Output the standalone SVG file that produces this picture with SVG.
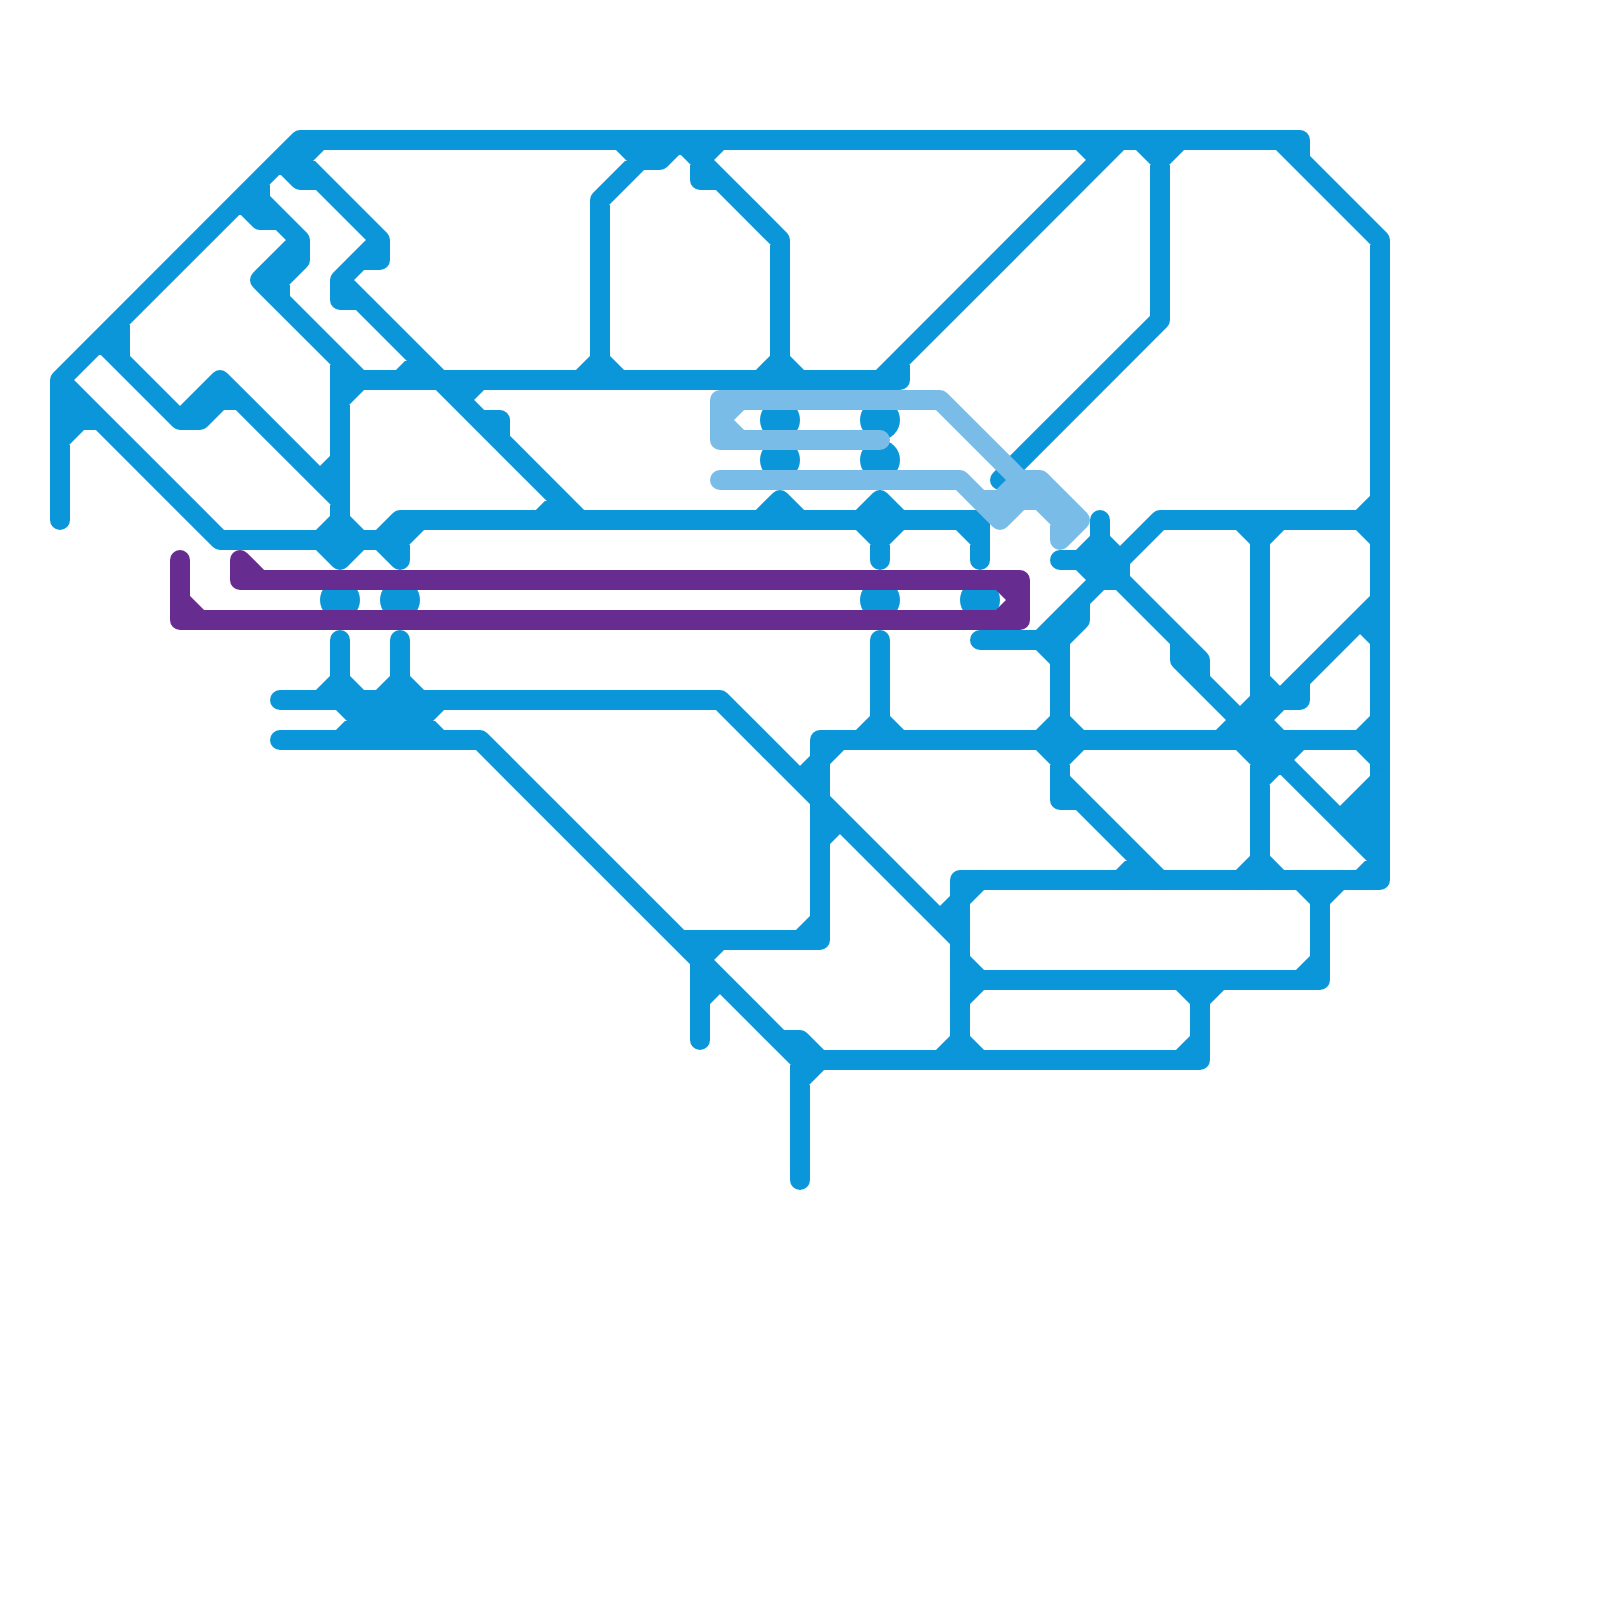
<svg xmlns="http://www.w3.org/2000/svg" width="1600" height="1600" viewBox="0 0 1600 1600">
<style>
.ln{fill:none;stroke-width:20;stroke-linecap:round;stroke-linejoin:round}
.blue{stroke:#0a96d8}
.sky{stroke:#7abce8}
.purple{stroke:#662c90}
.dot{fill:#0a96d8}
</style>
<rect width="1600" height="1600" fill="#ffffff"/>
<g id="connectors">
<g id="blue-dots">
<circle class="dot" cx="780" cy="420" r="20"/><circle class="dot" cx="880" cy="420" r="20"/>
<circle class="dot" cx="780" cy="460" r="20"/><circle class="dot" cx="880" cy="460" r="20"/>
<circle class="dot" cx="340" cy="600" r="20"/><circle class="dot" cx="400" cy="600" r="20"/>
<circle class="dot" cx="880" cy="600" r="20"/><circle class="dot" cx="980" cy="600" r="20"/>
</g>
<g id="blue-lines">
<polygon points="1380,780 1340,820 1380,860" fill="#0a96d8"/>
<path class="ln blue" d="M60 520V380L300 140H1300V160L1380 240V880H960V1060M1280 140L1300 160
M60 380L220 540H320L340 560L360 540H380L400 560V540L420 520H980V560M380 540L400 520H420
M60 440L80 420H100M60 400L80 420
M100 340L180 420H200L220 400H240L320 480L340 460M120 320V360M180 420L220 380L340 500
M340 360V560M340 520L360 540M320 540L340 520M340 400L360 380M340 380H900V360
M240 200L260 220H280L300 240L260 280L360 380M260 180V200L300 240V260L280 280V300L360 380
M280 160L300 180H320L380 240L340 280L580 520M300 160L380 240V260H360L340 280V300H360L420 360L400 380M300 160L320 140
M480 380L460 400L480 420H500V440L580 520M540 520L560 500
M580 380L600 360L620 380M600 360V200L660 140M620 140L640 160H660L680 140
M680 140L700 160V180H720L780 240V360M700 160L780 240M720 140L700 160M760 380L780 360L800 380
M880 380L1120 140M1080 140L1100 160M1140 140L1160 160L1180 140M1160 160V320L1000 480
M760 520L780 500L800 520M860 520L880 500L900 520L880 540L860 520M880 500V560M960 520L980 540"/>
<path class="ln blue" d="M340 640V680M400 640V680M320 700L340 680L360 700M380 700L400 680L420 700
M280 700H720L960 940M280 740H480L800 1060M340 700L360 720L340 740M440 700L420 720L440 740M360 720H420
M680 940H820V740H1380M700 960L720 940M800 940L820 920M700 960V1040M700 1000L720 980
M780 1040H800L820 1060M800 1060V1180M800 1080L820 1060M800 1060H1200V980M1180 1060L1200 1040
M800 780L840 740M820 840L840 820M860 740L880 720L900 740M880 640V720
M940 920L980 880M960 960L980 980L960 1000M980 980H1320M1300 980L1320 960M940 1060L960 1040L980 1060
M1300 880L1320 900L1340 880M1320 900V980M1180 980L1200 1000L1220 980"/>
<path class="ln blue" d="M980 640H1040L1100 580L1080 600V620L1060 640V800H1080L1160 880M1040 640L1060 660
M1040 740L1060 720L1080 740L1060 760L1040 740M1060 780L1160 880M1120 880L1140 860
M1060 560H1120V580H1100V520M1120 560L1160 520H1380M1100 540L1120 560M1080 560L1100 580M1100 540L1080 560
M1120 580L1200 660V680L1240 720M1180 640V660L1240 720
M1240 520L1260 540L1280 520M1260 540V880M1360 520L1380 500M1360 520L1380 540
M1380 600L1240 740M1360 620L1380 640M1260 680L1280 700H1300V680M1240 720L1260 700
M1220 740L1240 720L1380 860M1260 720L1280 740M1300 740L1260 780M1240 740L1260 760
M1240 880L1260 860L1280 880M1360 740L1380 720M1360 740L1380 760M1380 780L1340 820L1380 860M1360 880L1380 860"/>
</g>
<g id="purple-line">
<path class="ln purple" d="M180 560V620H1020V580H240V560L260 580M180 600L200 620M1000 580L1020 600L1000 620"/>
</g>
<g id="sky-line">
<path class="ln sky" d="M880 440H720V400H940L1020 480H1040L1080 520L1060 540V520L1040 500H1020L1000 520L960 480H720M740 400L720 420L740 440M980 500H1000L1020 480"/>
</g>
</g>
</svg>
